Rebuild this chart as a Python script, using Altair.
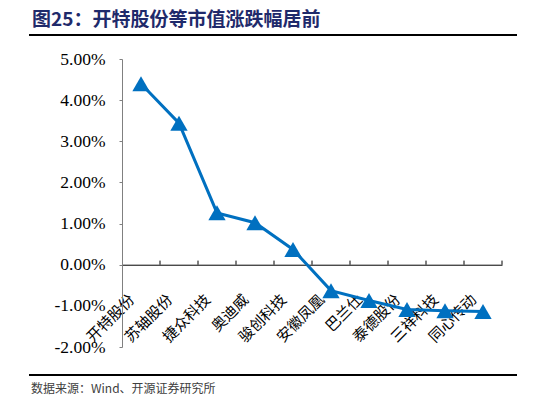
import altair as alt
import pandas as pd

# data (涨跌幅, as fractions)
companies = ['开特股份', '苏轴股份', '捷众科技', '奥迪威', '骏创科技',
             '安徽凤凰', '巴兰仕', '泰德股份', '三祥科技', '同心传动']
changes = [0.0440, 0.0344, 0.0126, 0.0102, 0.0037,
           -0.0063, -0.0087, -0.0109, -0.0112, -0.0114]
y_ticks = [-0.02, -0.01, 0.0, 0.01, 0.02, 0.03, 0.04, 0.05]

title_text = '图25：开特股份等市值涨跌幅居前'
source_text = '数据来源：Wind、开源证券研究所'

df = pd.DataFrame({'company': companies, 'change': changes})

W, H = 380, 288
zero_offset = -(H * 2 / 7)  # move the x axis up to the 0% line

cjk = 'Noto Sans CJK SC'
serif = 'Liberation Serif'
blue = '#0070C0'

x_enc = alt.X('company:N', sort=companies, scale=alt.Scale(paddingInner=0, paddingOuter=0),
              axis=alt.Axis(title=None, labelAngle=-45, labelAlign='right', labelBaseline='top',
                            labelFont=cjk, labelFontSize=15, labelColor='#000000',
                            labelPadding=27, labelOffset=-14, ticks=False,
                            domainColor='#000000', domainWidth=1, offset=zero_offset))
y_enc = alt.Y('change:Q', scale=alt.Scale(domain=[-0.02, 0.05], nice=False, zero=False),
              axis=alt.Axis(title=None, values=y_ticks, format='.2%',
                            labelExpr="replace(datum.label, '\u2212', '-')",
                            labelFont=serif, labelFontSize=17.5, labelColor='#000000',
                            labelPadding=14, tickSize=3, tickColor='#808080',
                            domainColor='#808080', grid=False))

base = alt.Chart(df)

line = base.mark_line(color=blue, strokeWidth=3).encode(x=x_enc, y=y_enc)
points = base.mark_point(shape='triangle-up', size=300, filled=True, opacity=1,
                         color=blue).encode(x=x_enc, y=y_enc)

# small upward ticks between categories on the 0% axis line
ticks = base.mark_rule(color='#000000', strokeWidth=1).encode(
    x=alt.X('company:N', sort=companies, bandPosition=1),
    y=alt.datum(0),
    y2=alt.datum(0.001),
)

# title underline and source line
top_rule = base.mark_rule(color='#000000', strokeWidth=1.2).encode(
    x=alt.value(-93), x2=alt.value(395), y=alt.value(-24))
bottom_rule = base.mark_rule(color='#000000', strokeWidth=1.2).encode(
    x=alt.value(-93), x2=alt.value(395), y=alt.value(316))

title = alt.Chart(pd.DataFrame({'t': [title_text]})).mark_text(
    align='left', baseline='alphabetic', font=cjk, fontSize=19, fontWeight='bold',
    color='#1F2A6B').encode(x=alt.value(-90), y=alt.value(-33), text='t:N')
source = alt.Chart(pd.DataFrame({'s': [source_text]})).mark_text(
    align='left', baseline='alphabetic', font=cjk, fontSize=12, fontWeight='normal',
    color='#404040').encode(x=alt.value(-91), y=alt.value(334), text='s:N')

chart = alt.layer(ticks, line, points, title, source, top_rule, bottom_rule).properties(
    width=W, height=H,
    autosize=alt.AutoSizeParams(type='none'),
    padding={'left': 114, 'top': 51, 'right': 36, 'bottom': 50},
).configure_view(strokeWidth=0)

chart.save('out.html', embed_options={'renderer': 'svg', 'actions': False})
